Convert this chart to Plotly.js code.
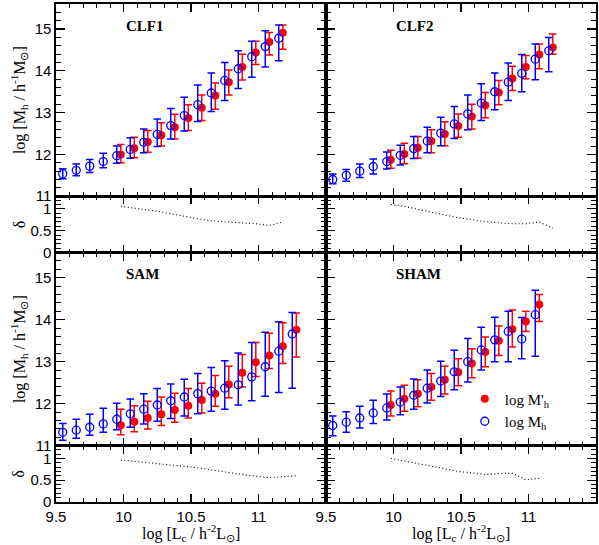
<!DOCTYPE html>
<html><head><meta charset="utf-8">
<script src="https://cdn.plot.ly/plotly-3.0.1.min.js"></script>
<style>html,body{margin:0;padding:0;background:#fff}#chart{width:599px;height:545px}</style>
</head><body><div id="chart"></div>
<script>
// ---- data ----
const xBlue = [9.55,9.65,9.75,9.85,9.95,10.05,10.15,10.25,10.35,10.45,10.55,10.65,10.75,10.85,10.95,11.05,11.15,11.25];
const xRed  = [9.98,10.08,10.18,10.28,10.38,10.48,10.58,10.68,10.78,10.88,10.98,11.08,11.18,11.28];

const clf1BlueY  = [11.54,11.62,11.72,11.83,11.97,12.12,12.29,12.48,12.69,12.93,13.19,13.47,13.77,14.05,14.34,14.58,14.78];
const clf1BlueHi = [11.66,11.77,11.88,12.03,12.20,12.40,12.61,12.85,13.10,13.37,13.66,13.95,14.20,14.48,14.71,14.96,15.10];
const clf1BlueLo = [11.42,11.49,11.57,11.68,11.79,11.91,12.04,12.19,12.37,12.56,12.79,13.03,13.29,13.58,13.85,14.09,14.24];
const clf1RedY   = [12.00,12.15,12.30,12.46,12.65,12.87,13.12,13.41,13.73,14.09,14.44,14.69,14.91];
const clf1RedHi  = [12.24,12.41,12.57,12.76,12.96,13.19,13.42,13.71,14.02,14.40,14.71,14.92,15.10];
const clf1RedLo  = [11.80,11.92,12.05,12.20,12.37,12.57,12.81,13.08,13.42,13.78,14.15,14.38,14.52];

const clf2BlueY  = [11.40,11.50,11.60,11.71,11.83,11.98,12.14,12.32,12.51,12.73,12.97,13.23,13.50,13.73,13.94,14.28,14.48];
const clf2BlueHi = [11.53,11.64,11.77,11.89,12.06,12.22,12.43,12.65,12.89,13.15,13.42,13.69,13.95,14.19,14.39,14.64,14.80];
const clf2BlueLo = [11.30,11.36,11.45,11.53,11.65,11.75,11.90,12.04,12.21,12.38,12.59,12.81,13.07,13.29,13.50,13.79,13.98];
const clf2RedY   = [11.87,12.01,12.16,12.32,12.49,12.68,12.91,13.18,13.48,13.82,14.09,14.39,14.56];
const clf2RedHi  = [12.10,12.27,12.43,12.59,12.78,12.97,13.20,13.48,13.77,14.11,14.37,14.64,14.88];
const clf2RedLo  = [11.67,11.78,11.91,12.04,12.21,12.41,12.61,12.88,13.19,13.53,13.81,14.05,14.40];

const samBlueY  = [11.32,11.37,11.44,11.52,11.63,11.76,11.87,11.97,12.07,12.16,12.24,12.30,12.37,12.45,12.64,12.88,13.25,13.66];
const samBlueHi = [11.53,11.63,11.75,11.89,12.01,12.11,12.24,12.36,12.47,12.58,12.72,12.86,13.02,13.21,13.46,13.70,13.95,14.17];
const samBlueLo = [11.13,11.18,11.25,11.32,11.38,11.44,11.52,11.58,11.65,11.71,11.76,11.82,11.87,11.97,12.07,12.18,12.27,12.37];
const samRedY   = [11.49,11.57,11.66,11.75,11.85,11.95,12.09,12.24,12.46,12.74,12.99,13.15,13.37,13.76];
const samRedHi  = [11.87,11.95,12.06,12.16,12.25,12.36,12.49,12.67,12.89,13.17,13.46,13.68,13.93,14.16];
const samRedLo  = [11.26,11.33,11.40,11.48,11.56,11.66,11.78,11.94,12.14,12.40,12.65,12.84,12.96,13.11];

const shamBlueY  = [11.48,11.56,11.66,11.78,11.90,12.04,12.20,12.37,12.54,12.76,13.00,13.28,13.52,13.72,13.54,14.12];
const shamBlueHi = [11.71,11.81,11.94,12.08,12.23,12.40,12.59,12.80,13.01,13.27,13.55,13.82,14.06,14.20,14.05,14.70];
const shamBlueLo = [11.24,11.32,11.42,11.53,11.61,11.74,11.87,12.02,12.17,12.33,12.52,12.80,13.00,13.00,13.07,13.13];
const shamRedY   = [11.97,12.12,12.24,12.40,12.57,12.75,12.96,13.23,13.50,13.77,13.96,14.36];
const shamRedHi  = [12.30,12.44,12.57,12.72,12.89,13.07,13.31,13.59,13.85,14.23,14.20,14.60];
const shamRedLo  = [11.71,11.82,11.93,12.08,12.23,12.43,12.62,12.88,13.15,13.35,13.72,13.96];

const clf1Delta = [1.06,1.02,0.98,0.93,0.87,0.81,0.76,0.72,0.70,0.69,0.66,0.62,0.70];
const clf2Delta = [1.10,1.06,0.99,0.92,0.86,0.80,0.75,0.71,0.68,0.66,0.66,0.70,0.56];
const samDelta  = [0.96,0.93,0.91,0.88,0.85,0.81,0.77,0.72,0.67,0.63,0.59,0.56,0.58,0.60];
const shamDelta = [1.00,0.94,0.87,0.81,0.76,0.70,0.67,0.63,0.65,0.66,0.51,0.54];

const panelNames = ['CLF1','CLF2','SAM','SHAM'];
const xTickVals = [9.5,10,10.5,11];
const massTickVals = [11,12,13,14,15];
const deltaTickVals = [0,0.5,1];
const legendNames = ["log M'<sub>h</sub>", "log M<sub>h</sub>"];

// ---- build ----
const RED = '#ff0000', BLUE = '#0000ff';
function errTrace(x, y, hi, lo, color, open, xa, ya, name, showleg) {
  return {
    type: 'scatter', mode: 'markers', x: x.slice(0, y.length), y: y,
    xaxis: xa, yaxis: ya, name: name, showlegend: showleg,
    marker: open ? {symbol: 'circle-open', size: 8, color: color, line: {color: color, width: 1.3}}
                 : {symbol: 'circle', size: 8, color: color},
    error_y: {type: 'data', symmetric: false,
      array: hi.map((h, i) => h - y[i]), arrayminus: lo.map((l, i) => y[i] - l),
      color: color, thickness: 1.5, width: 3.8}
  };
}
function deltaTrace(d, xa, ya) {
  return {type: 'scatter', mode: 'lines', x: xRed.slice(0, d.length), y: d, xaxis: xa, yaxis: ya,
    showlegend: false, line: {color: '#000', width: 1.1, dash: '1px,2.5px'}};
}
const panels = [
  {bY: clf1BlueY, bH: clf1BlueHi, bL: clf1BlueLo, rY: clf1RedY, rH: clf1RedHi, rL: clf1RedLo, d: clf1Delta, xm: 'x', ym: 'y', xd: 'x2', yd: 'y2'},
  {bY: clf2BlueY, bH: clf2BlueHi, bL: clf2BlueLo, rY: clf2RedY, rH: clf2RedHi, rL: clf2RedLo, d: clf2Delta, xm: 'x3', ym: 'y3', xd: 'x4', yd: 'y4'},
  {bY: samBlueY, bH: samBlueHi, bL: samBlueLo, rY: samRedY, rH: samRedHi, rL: samRedLo, d: samDelta, xm: 'x5', ym: 'y5', xd: 'x6', yd: 'y6'},
  {bY: shamBlueY, bH: shamBlueHi, bL: shamBlueLo, rY: shamRedY, rH: shamRedHi, rL: shamRedLo, d: shamDelta, xm: 'x7', ym: 'y7', xd: 'x8', yd: 'y8'}
];
const data = [];
panels.forEach((p, i) => {
  const leg = (i === 3);
  data.push(errTrace(xRed, p.rY, p.rH, p.rL, RED, false, p.xm, p.ym, legendNames[0], leg));
  data.push(errTrace(xBlue, p.bY, p.bH, p.bL, BLUE, true, p.xm, p.ym, legendNames[1], leg));
  data.push(deltaTrace(p.d, p.xd, p.yd));
});

const tickFont = {family: 'Liberation Sans, Arial, sans-serif', size: 15, color: '#000'};
function xAx(domain, showLabels, anchor) {
  return {domain: domain, range: [9.5, 11.5], anchor: anchor, showgrid: false, zeroline: false,
    showline: true, linecolor: '#000', linewidth: 1.6, mirror: 'allticks',
    ticks: 'inside', ticklen: 8, tickwidth: 1.2, tickcolor: '#000',
    tickmode: 'array', tickvals: xTickVals, showticklabels: showLabels, tickfont: tickFont,
    minor: {dtick: 0.1, tick0: 9.5, ticks: 'inside', ticklen: 4, tickwidth: 1, tickcolor: '#000', showgrid: false}};
}
function yAx(domain, range, tv, dt, minorDt, showLabels, anchor) {
  return {domain: domain, range: range, anchor: anchor, showgrid: false, zeroline: false,
    showline: true, linecolor: '#000', linewidth: 1.6, mirror: 'allticks',
    ticks: 'inside', ticklen: 9, tickwidth: 1.2, tickcolor: '#000',
    tickmode: 'array', tickvals: tv, showticklabels: showLabels, tickfont: tickFont,
    minor: {dtick: minorDt, tick0: 0, ticks: 'inside', ticklen: 5, tickwidth: 1, tickcolor: '#000', showgrid: false}};
}
const dL = [0, 0.5], dR = [0.5, 1];
const dTM = [0.614, 1], dTD = [0.501, 0.614], dBM = [0.113, 0.501], dBD = [0, 0.113];
const mR = [11, 15.6], dRg = [0, 1.29];

const layout = {
  width: 599, height: 545, margin: {l: 56, r: 3, t: 4, b: 43},
  paper_bgcolor: '#fff', plot_bgcolor: '#fff',
  font: {family: 'Liberation Serif, Times New Roman, serif', color: '#000'},
  xaxis: xAx(dL, false, 'y'), yaxis: yAx(dTM, mR, massTickVals, 1, 0.2, true, 'x'),
  xaxis2: xAx(dL, false, 'y2'), yaxis2: yAx(dTD, dRg, deltaTickVals, 0.5, 0.1, true, 'x2'),
  xaxis3: xAx(dR, false, 'y3'), yaxis3: yAx(dTM, mR, massTickVals, 1, 0.2, false, 'x3'),
  xaxis4: xAx(dR, false, 'y4'), yaxis4: yAx(dTD, dRg, deltaTickVals, 0.5, 0.1, false, 'x4'),
  xaxis5: xAx(dL, false, 'y5'), yaxis5: yAx(dBM, mR, massTickVals, 1, 0.2, true, 'x5'),
  xaxis6: xAx(dL, true, 'y6'), yaxis6: yAx(dBD, dRg, deltaTickVals, 0.5, 0.1, true, 'x6'),
  xaxis7: xAx(dR, false, 'y7'), yaxis7: yAx(dBM, mR, massTickVals, 1, 0.2, false, 'x7'),
  xaxis8: xAx(dR, true, 'y8'), yaxis8: yAx(dBD, dRg, deltaTickVals, 0.5, 0.1, false, 'x8'),
  showlegend: true,
  legend: {x: 0.757, y: 0.24, xanchor: 'left', yanchor: 'top', bgcolor: 'rgba(0,0,0,0)',
    font: {family: 'Liberation Serif, serif', size: 15, color: '#000'}, itemwidth: 30, tracegroupgap: 0},
  annotations: []
};
const massAxes = [['x', 'y'], ['x3', 'y3'], ['x5', 'y5'], ['x7', 'y7']];
panelNames.forEach((n, i) => {
  layout.annotations.push({text: '<b>' + n + '</b>', xref: massAxes[i][0], yref: massAxes[i][1],
    x: 10.0, y: 15.08, xanchor: 'left', yanchor: 'middle', showarrow: false,
    font: {family: 'Liberation Serif, serif', size: 15, color: '#000'}});
});
const titleFont = {family: 'Liberation Serif, serif', size: 16, color: '#000'};
const yMassTitle = 'log [M<sub>h</sub> / h<sup>-1</sup>M<sub>⊙</sub>]';
const xTitle = 'log [L<sub>c</sub> / h<sup>-2</sup>L<sub>⊙</sub>]';
[dTM, dBM].forEach(d => layout.annotations.push({text: yMassTitle, xref: 'paper', yref: 'paper',
  x: 0, y: (d[0] + d[1]) / 2, xshift: -37, xanchor: 'center', yanchor: 'middle', textangle: -90, showarrow: false, font: titleFont}));
[dTD, dBD].forEach(d => layout.annotations.push({text: 'δ', xref: 'paper', yref: 'paper',
  x: 0, y: (d[0] + d[1]) / 2, xshift: -37, xanchor: 'center', yanchor: 'middle', textangle: -90, showarrow: false, font: titleFont}));
[0.25, 0.75].forEach(x => layout.annotations.push({text: xTitle, xref: 'paper', yref: 'paper',
  x: x, y: 0, yshift: -31, xanchor: 'center', yanchor: 'middle', showarrow: false, font: titleFont}));

Plotly.newPlot('chart', data, layout, {staticPlot: true});
</script></body></html>
